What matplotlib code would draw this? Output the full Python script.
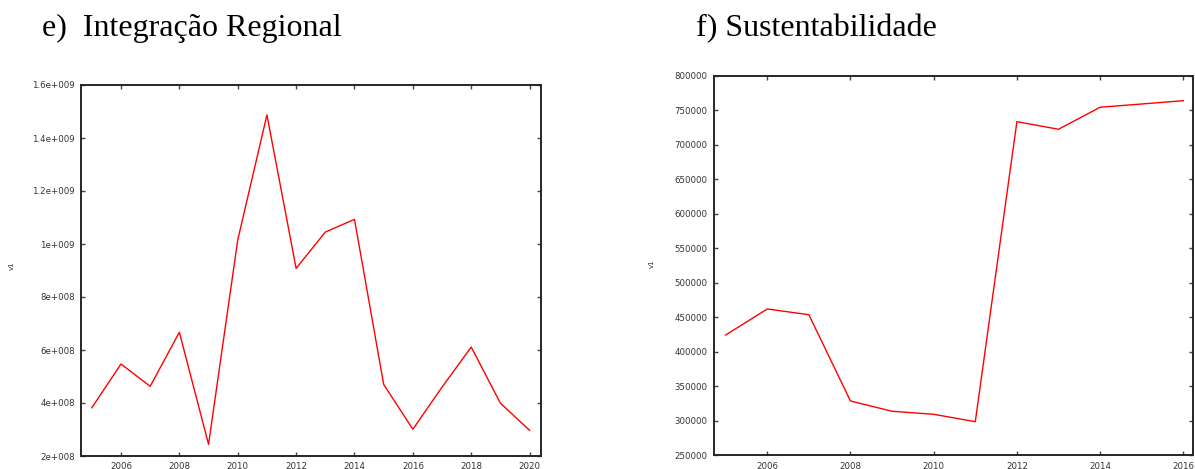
import matplotlib
matplotlib.use("Agg")
import matplotlib.pyplot as plt

# Panel e) Integração Regional
years_e = [2005, 2006, 2007, 2008, 2009, 2010, 2011, 2012, 2013, 2014,
           2015, 2016, 2017, 2018, 2019, 2020]
values_e = [3.82e8, 5.47e8, 4.63e8, 6.67e8, 2.44e8, 1.015e9, 1.487e9, 9.08e8,
            1.045e9, 1.093e9, 4.70e8, 3.01e8, 4.60e8, 6.11e8, 3.99e8, 2.97e8]
yticks_e = [2e8, 4e8, 6e8, 8e8, 1e9, 1.2e9, 1.4e9, 1.6e9]
yticklabels_e = ["2e+008", "4e+008", "6e+008", "8e+008", "1e+009",
                 "1.2e+009", "1.4e+009", "1.6e+009"]
xticks_e = [2006, 2008, 2010, 2012, 2014, 2016, 2018, 2020]

# Panel f) Sustentabilidade
years_f = [2005, 2006, 2007, 2008, 2009, 2010, 2011, 2012, 2013, 2014, 2015, 2016]
values_f = [424300, 462000, 453700, 328700, 313800, 309400, 298700,
            733400, 722400, 754300, 759000, 763800]
yticks_f = [250000, 300000, 350000, 400000, 450000, 500000, 550000,
            600000, 650000, 700000, 750000, 800000]
yticklabels_f = [str(v) for v in yticks_f]
xticks_f = [2006, 2008, 2010, 2012, 2014, 2016]

fig = plt.figure(figsize=(11.95, 4.69), dpi=100)

ax_e = fig.add_axes([81 / 1195, 13 / 469, 460 / 1195, 371 / 469])
ax_f = fig.add_axes([714 / 1195, 13.7 / 469, 479.3 / 1195, 379.6 / 469])

spine_col = "#262626"
label_col = "#333333"


def style(ax, xs, ys, xt, yt, ytl, xlim, ylim):
    ax.plot(xs, ys, color="#ff0000", linewidth=1.0)
    ax.set_xlim(*xlim)
    ax.set_ylim(*ylim)
    ax.set_xticks(xt)
    ax.set_xticklabels([str(t) for t in xt])
    ax.set_yticks(yt)
    ax.set_yticklabels(ytl)
    ax.tick_params(direction="in", length=3, width=1.0, color="#444444",
                   labelsize=6.2, labelcolor=label_col, pad=4.5,
                   top=True, right=True)
    for sp in ax.spines.values():
        sp.set_color(spine_col)
        sp.set_linewidth(1.4)


style(ax_e, years_e, values_e, xticks_e, yticks_e, yticklabels_e,
      (2004.63, 2020.39), (2e8, 1.6e9))
style(ax_f, years_f, values_f, xticks_f, yticks_f, yticklabels_f,
      (2004.72, 2016.24), (250000, 800000))

fig.text(12 / 1195, 1 - 266 / 469, "v1", rotation=90, fontsize=5,
         color=label_col, ha="center", va="center")
fig.text(652 / 1195, 1 - 264 / 469, "v1", rotation=90, fontsize=5,
         color=label_col, ha="center", va="center")

title_font = {"family": ["Liberation Serif", "DejaVu Serif"], "size": 23,
              "color": "black"}
fig.text(42 / 1195, 1 - 36 / 469, "e)  Integração Regional", ha="left",
         va="baseline", **title_font)
fig.text(696 / 1195, 1 - 36 / 469, "f) Sustentabilidade", ha="left",
         va="baseline", **title_font)

fig.savefig("out.png", dpi=100)
